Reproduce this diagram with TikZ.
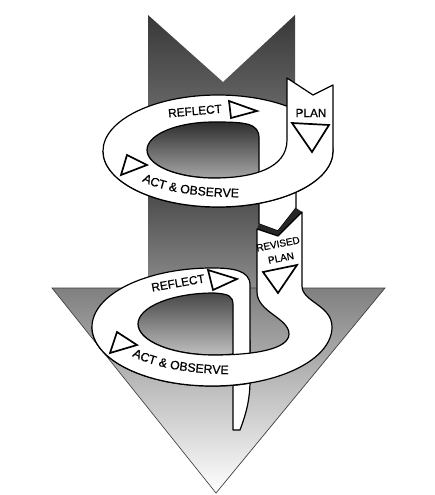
\documentclass[tikz,border=0pt]{standalone}
\usepackage{fontspec}
\newfontfamily\labfont[FakeBold=0.6]{Liberation Sans}
\usetikzlibrary{decorations.text}
\begin{document}
\begin{tikzpicture}[x=1pt,y=-1pt,
  rib/.style={draw=black, line width=1.2pt, line join=round},
  tri/.style={draw=black, fill=white, line width=1.7pt, line join=miter},
  lab/.style={font=\labfont\fontsize{11.8}{13}\selectfont, inner sep=0pt},
  labs/.style={font=\labfont\fontsize{10}{11}\selectfont, inner sep=0pt},
]
\useasboundingbox[fill=white] (0,0) rectangle (435,495);

% big arrow
\shade[top color=black!78, bottom color=black!52] (148,15) -- (223,82) -- (295,15) -- (295,151) -- (148,151) -- cycle;
\shade[top color=black!82, bottom color=black!45] (148,151) rectangle (295,289);
\shadedraw[top color=black!50, bottom color=white, draw=black!75, line width=0.7pt] (52,288) -- (385,288) -- (216,493) -- cycle;

% ===== upper loop =====
\filldraw[rib, fill=white] (259,160) -- (259,224) -- (278,231) -- (296,208) -- (296,160) -- cycle;
\fill[black!85] (259,224) -- (278,231) -- (296,208) -- (302,212) -- (278,236) -- (257,229) -- cycle;
\fill[white] (218,151) ellipse [x radius=115pt, y radius=56pt];
\shade[top color=black!82, bottom color=black!35] (259,175) -- (259,138) .. controls (259,123) and (245,122) .. (214,122) .. controls (177,122) and (147,134.5) .. (147,150) .. controls (147,165.5) and (177,178) .. (214,178) .. controls (235,178) and (250,177) .. (259,175) -- cycle;
\draw[rib] (218,151) ellipse [x radius=115pt, y radius=56pt];
\draw[rib] (259,175) -- (259,138) .. controls (259,123) and (245,122) .. (214,122) .. controls (177,122) and (147,134.5) .. (147,150) .. controls (147,165.5) and (177,178) .. (214,178) .. controls (235,178) and (250,177) .. (259,175) -- cycle;
\fill[white] (103,151) .. controls (103,182) and (154.5,207) .. (218,207) .. controls (281.5,207) and (333,182) .. (333,151) -- (333,85) -- (313,95) -- (287,78) -- (287,140) .. controls (287,168) and (254,178) .. (214,178) .. controls (177,178) and (147,165.5) .. (147,150) -- cycle;
\draw[rib] (103,151) .. controls (103,182) and (154.5,207) .. (218,207) .. controls (281.5,207) and (333,182) .. (333,151) -- (333,85) -- (313,95) -- (287,78) -- (287,140) .. controls (287,168) and (254,178) .. (214,178) .. controls (177,178) and (147,165.5) .. (147,150);

% ===== lower loop =====
\filldraw[rib, fill=white] (233,340) -- (233,430) -- (240,430) .. controls (246,414) and (250,400) .. (250,380) -- (250,340) -- cycle;
\fill[white] (250,285) -- (250,383) .. controls (238,385.5) and (225,386) .. (212,386) .. controls (145.7,386) and (92,359.6) .. (92,327) .. controls (92,294.4) and (145.7,268) .. (212,268) .. controls (232,268) and (250,270) .. (250,285) -- cycle;
\shade[top color=black!72, bottom color=black!25] (233,354) -- (233,305) .. controls (233,296) and (229,294) .. (214,293) .. controls (172,293) and (138,307) .. (138,324) .. controls (138,341) and (172,355) .. (214,355) .. controls (222,355) and (228,354.6) .. (233,354) -- cycle;
\draw[rib] (250,285) -- (250,383) .. controls (238,385.5) and (225,386) .. (212,386) .. controls (145.7,386) and (92,359.6) .. (92,327) .. controls (92,294.4) and (145.7,268) .. (212,268) .. controls (232,268) and (250,270) .. (250,285) -- cycle;
\draw[rib] (233,354) -- (233,305) .. controls (233,296) and (229,294) .. (214,293) .. controls (172,293) and (138,307) .. (138,324) .. controls (138,341) and (172,355) .. (214,355) .. controls (222,355) and (228,354.6) .. (233,354) -- cycle;
\fill[white] (92,327) .. controls (92,359.6) and (145.7,386) .. (212,386) .. controls (278.3,386) and (332,359.6) .. (332,327) .. controls (332,305) and (302,302) .. (302,286) -- (302,212) -- (278,236) -- (257,229) -- (257,292) .. controls (257,312) and (289,318) .. (289,334) .. controls (289,349) and (255,355) .. (214,355) .. controls (172,355) and (138,341) .. (138,324) -- cycle;
\draw[rib] (92,327) .. controls (92,359.6) and (145.7,386) .. (212,386) .. controls (278.3,386) and (332,359.6) .. (332,327) .. controls (332,305) and (302,302) .. (302,286) -- (302,212) -- (278,236) -- (257,229) -- (257,292) .. controls (257,312) and (289,318) .. (289,334) .. controls (289,349) and (255,355) .. (214,355) .. controls (172,355) and (138,341) .. (138,324);

% triangles
\draw[tri] (229,101) -- (231,118) -- (257,111) -- cycle;
\draw[tri] (292,123) -- (329,125) -- (312,152) -- cycle;
\draw[tri] (127,155) -- (121,175) -- (147,165) -- cycle;
\draw[tri] (208,270) -- (213,290) -- (237,279) -- cycle;
\draw[tri] (117,332) -- (110,353) -- (137,345) -- cycle;
\draw[tri] (263,272) -- (297,265) -- (278,293) -- cycle;

% labels
\node[lab, rotate=5] (reflect1) at (195,111) {REFLECT};
\node[lab] (plan1) at (311,113) {PLAN};
\node[lab, rotate=10] (reflect2) at (178,283) {REFLECT};
\node[labs, rotate=11] (revised) at (278,244) {REVISED};
\node[labs, rotate=11] (plan2) at (281,258) {PLAN};
\path[decorate, decoration={text along path, text={|\labfont\fontsize{12.3}{14}\selectfont|ACT {\&} OBSERVE}, text align=left}] (142,181) .. controls (160,191) and (200,199) .. (262,197);
\path[decorate, decoration={text along path, text={|\labfont\fontsize{12.3}{14}\selectfont|ACT {\&} OBSERVE}, text align=left}] (132,356) .. controls (155,368) and (195,376) .. (256,374);
\end{tikzpicture}
\end{document}
